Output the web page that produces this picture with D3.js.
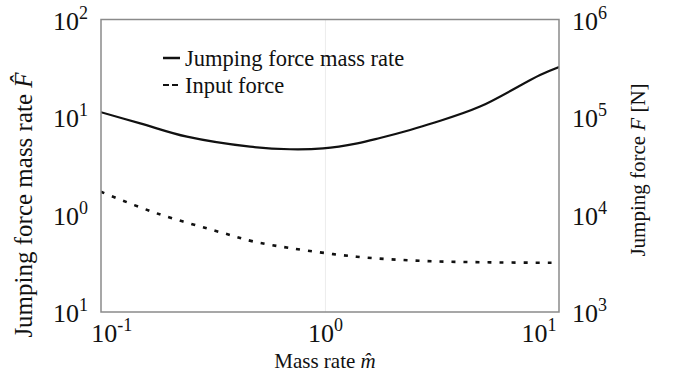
<!DOCTYPE html>
<html>
<head>
<meta charset="utf-8">
<script src="https://cdn.jsdelivr.net/npm/d3@7"></script>
<style>
  body { margin: 0; background: #fff; }
  svg text { font-family: "Liberation Serif", "Times New Roman", serif; fill: #111; }
</style>
</head>
<body>
<svg id="chart"></svg>
<script>
// Jumping force mass rate (left axis)
const massRate = [0.089, 0.136, 0.225, 0.444, 0.683, 0.975, 1.41, 1.80, 2.49, 3.19, 5.29, 10.1, 12.4];
const forceRate = [11.2, 8.6, 6.28, 4.96, 4.67, 4.77, 5.37, 6.09, 7.36, 8.67, 12.8, 27.0, 32.6];

// Input force [N] (right axis)
const inputMass = [0.089, 0.162, 0.332, 0.458, 0.683, 1.40, 2.86, 5.89, 12.4];
const inputForce = [17100, 10300, 6460, 5300, 4530, 3690, 3340, 3230, 3200];

// tick values and their exponent labels
const xTicks = [0.1, 1, 10];
const xExp = ["-1", "0", "1"];
const leftTicks = [100, 10, 1, 0.1];
const leftExp = ["2", "1", "0", "1"];
const rightTicks = [1e6, 1e5, 1e4, 1e3];
const rightExp = ["6", "5", "4", "3"];

const FONT = '"Liberation Serif", "Times New Roman", serif';

const W = 673, H = 375;
const margin = { top: 19.5, right: 114, bottom: 63, left: 101 };
const width = W - margin.left - margin.right;
const height = H - margin.top - margin.bottom;

const svg = d3.select("#chart").attr("width", W).attr("height", H)
  .attr("font-family", FONT);
const g = svg.append("g").attr("transform", `translate(${margin.left}, ${margin.top})`);

const x = d3.scaleLog().domain([0.0891, 12.39]).range([0, width]);
const yL = d3.scaleLog().domain([0.1, 100]).range([height, 0]);
const yR = d3.scaleLog().domain([1e3, 1e6]).range([height, 0]);

// faint grid line at 10^0
g.append("line")
  .attr("x1", x(1)).attr("x2", x(1))
  .attr("y1", 0).attr("y2", height)
  .attr("stroke", "#ececec").attr("stroke-width", 1);

g.append("defs").append("clipPath").attr("id", "clip")
  .append("rect").attr("width", width).attr("height", height);

// curves
const solidLine = d3.line()
  .x((d, i) => x(massRate[i]))
  .y((d) => yL(d))
  .curve(d3.curveCatmullRom);

const dashLine = d3.line()
  .x((d, i) => x(inputMass[i]))
  .y((d) => yR(d))
  .curve(d3.curveCatmullRom);

g.append("path")
  .attr("clip-path", "url(#clip)")
  .attr("d", solidLine(forceRate))
  .attr("fill", "none").attr("stroke", "#111").attr("stroke-width", 2.2);

g.append("path")
  .attr("clip-path", "url(#clip)")
  .attr("d", dashLine(inputForce))
  .attr("fill", "none").attr("stroke", "#111").attr("stroke-width", 2.6)
  .attr("stroke-dasharray", "4,8");

// frame
g.append("rect")
  .attr("width", width).attr("height", height)
  .attr("fill", "none").attr("stroke", "#8a8a8a").attr("stroke-width", 1.5);

// power-of-ten labels
function powLabel(sel, exps) {
  sel.each(function (d, i) {
    const t = d3.select(this).text(null);
    t.append("tspan").text("10");
    t.append("tspan").attr("dy", -11).attr("font-size", 18).text(exps[i]);
  });
}

g.append("g").selectAll("text").data(xTicks).enter().append("text")
  .attr("x", (d) => x(d))
  .attr("y", height + 30)
  .attr("text-anchor", "middle")
  .attr("font-size", 26)
  .call(powLabel, xExp);

g.append("g").selectAll("text").data(leftTicks).enter().append("text")
  .attr("x", -13)
  .attr("y", (d) => yL(d) + 10)
  .attr("text-anchor", "end")
  .attr("font-size", 26)
  .call(powLabel, leftExp);

g.append("g").selectAll("text").data(rightTicks).enter().append("text")
  .attr("x", width + 13)
  .attr("y", (d) => yR(d) + 10)
  .attr("text-anchor", "start")
  .attr("font-size", 26)
  .call(powLabel, rightExp);

// axis titles
svg.append("text")
  .attr("x", 325).attr("y", 368)
  .attr("text-anchor", "middle").attr("font-size", 21)
  .html('Mass rate <tspan font-style="italic">m\u0302</tspan>');

svg.append("text")
  .attr("transform", "translate(32, 205) rotate(-90)")
  .attr("text-anchor", "middle").attr("font-size", 25)
  .html('Jumping force mass rate <tspan font-style="italic">F\u0302</tspan>');

svg.append("text")
  .attr("transform", "translate(645, 170) rotate(-90)")
  .attr("text-anchor", "middle").attr("font-size", 21)
  .html('Jumping force <tspan font-style="italic">F</tspan> [N]');

// legend
const legend = svg.append("g");
legend.append("line")
  .attr("x1", 163).attr("x2", 180).attr("y1", 58).attr("y2", 58)
  .attr("stroke", "#111").attr("stroke-width", 2.5);
legend.append("line")
  .attr("x1", 163).attr("x2", 180).attr("y1", 85).attr("y2", 85)
  .attr("stroke", "#111").attr("stroke-width", 2)
  .attr("stroke-dasharray", "6,3");
legend.append("text").attr("x", 185).attr("y", 66).attr("font-size", 22.5)
  .text("Jumping force mass rate");
legend.append("text").attr("x", 185).attr("y", 93).attr("font-size", 22.5)
  .text("Input force");
</script>
</body>
</html>
